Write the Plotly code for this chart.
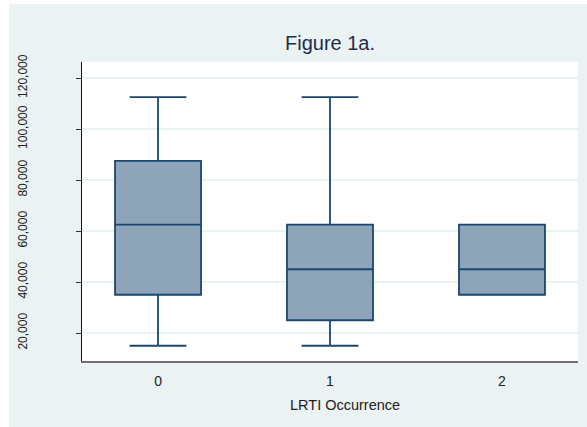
import plotly.graph_objects as go

# LRTI occurrence groups and five-number summaries
categories = [0, 1, 2]
tick_text = ["0", "1", "2"]
lower_whisker = [15000, 15000, 35000]
q1 = [35000, 25000, 35000]
median = [62500, 45000, 45000]
q3 = [87500, 62500, 62500]
upper_whisker = [112500, 112500, 62500]

y_ticks = [20000, 40000, 60000, 80000, 100000, 120000]
y_tick_text = ["20,000", "40,000", "60,000", "80,000", "100,000", "120,000"]

W, H = 587, 427
ML, MR, MT, MB = 82, 9, 62, 66
FONT = "Liberation Sans, Arial, sans-serif"
BG = "#eaf2f3"
NAVY = "#1a476f"

fig = go.Figure()
fig.add_trace(go.Box(
    x=categories,
    q1=q1, median=median, q3=q3,
    lowerfence=lower_whisker, upperfence=upper_whisker,
    width=0.5,
    whiskerwidth=0.66,
    fillcolor="#8ea4b9",
    line=dict(color=NAVY, width=1.8),
    boxpoints=False,
    hoverinfo="skip",
    showlegend=False,
))

pw = W - ML - MR
ph = H - MT - MB
# outer graph region (white strip at top and left) and white plot region
fig.add_shape(type="rect", xref="paper", yref="paper", layer="below",
              x0=(9 - ML) / pw, x1=(W - ML) / pw,
              y0=-(H - MT - ph) / ph, y1=(H - MT - 8) / ph,
              fillcolor=BG, line=dict(width=0))
fig.add_shape(type="rect", xref="paper", yref="paper", layer="below",
              x0=0, x1=1, y0=0, y1=1,
              fillcolor="white", line=dict(width=0))

fig.add_annotation(text="LRTI Occurrence", xref="paper", yref="paper",
                   x=(345 - ML) / pw, y=-(405 - MT - ph) / ph,
                   xanchor="center", yanchor="middle", showarrow=False,
                   font=dict(family=FONT, size=14.5, color="#222222"))

fig.update_layout(
    width=W, height=H,
    margin=dict(l=ML, r=MR, t=MT, b=MB),
    paper_bgcolor="white",
    plot_bgcolor="white",
    font=dict(family=FONT, color="#222222"),
    title=dict(text="Figure 1a.", x=(330) / W, xanchor="center",
               y=1 - 43 / H, yanchor="middle", yref="container",
               font=dict(family=FONT, size=20, color="#1e2d4e")),
    xaxis=dict(
        range=[-0.442, 2.442],
        tickmode="array", tickvals=categories, ticktext=tick_text,
        showgrid=False, zeroline=False,
        showline=True, linecolor="#707070", linewidth=2,
        ticks="", ticklabelstandoff=6,
        tickfont=dict(family=FONT, size=14, color="#222222"),
    ),
    yaxis=dict(
        range=[9020, 126275],
        tickmode="array", tickvals=y_ticks, ticktext=y_tick_text,
        tickangle=-90,
        showgrid=True, gridcolor=BG, gridwidth=1.5,
        zeroline=False,
        showline=True, linecolor="#111111", linewidth=1.2,
        ticks="outside", ticklen=5, tickcolor="#333333", tickwidth=1,
        ticklabelstandoff=44,
        tickfont=dict(family=FONT, size=12, color="#222222"),
    ),
)

fig.write_html("out.html")
